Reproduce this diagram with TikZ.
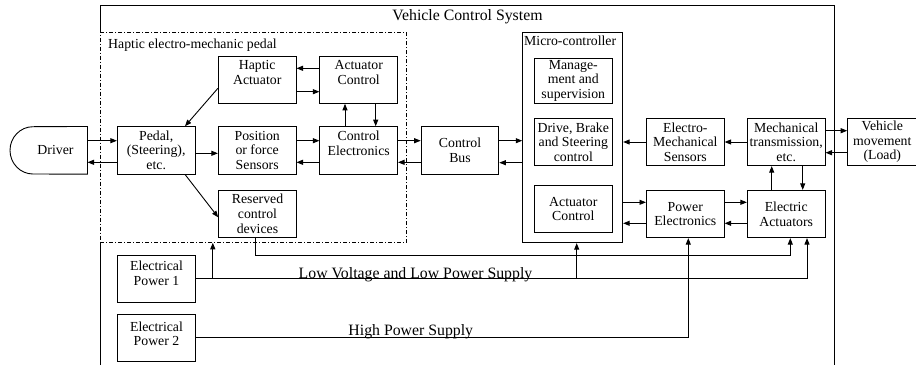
\documentclass[tikz,border=0pt]{standalone}
\usepackage{fontspec}
\setmainfont{Liberation Serif}
\usetikzlibrary{arrows.meta}

\begin{document}
\begin{tikzpicture}[x=1pt, y=-1pt,
  box/.style={draw, line width=0.9pt, minimum width=77.7pt, minimum height=47.3pt,
    inner sep=0pt, align=center, font=\fontsize{13.8}{14.6}\selectfont},
  hi/.style={text depth=#1},
  arr/.style={line width=0.9pt, -{Triangle[length=6.5pt,width=5pt]}},
  wire/.style={line width=0.9pt},
  big/.style={font=\fontsize{15.8}{18}\selectfont, inner sep=0pt},
  small/.style={font=\fontsize{13.8}{14.6}\selectfont, inner sep=0pt}]

  \useasboundingbox (0,0) rectangle (916,365);

  \draw[wire] (100,365) -- (100,5) -- (834.3,5) -- (834.3,365);
  \node[big, anchor=base] (vcs) at (467.5,20.5) {Vehicle Control System};

  \node[draw, line width=0.9pt, dash pattern=on 4pt off 2pt on 1pt off 2pt, fill=white,
    minimum width=306.7pt, minimum height=209.6pt, inner sep=0pt] (hapbox) at (253.35,137.5) {};
  \node[small, anchor=base west] (haplbl) at (108,48.5) {Haptic electro-mechanic pedal};

  \node[draw, line width=0.9pt, minimum width=100pt, minimum height=210.4pt, inner sep=0pt] (micro) at (572.7,137.5) {};
  \node[small, anchor=base west] (microlbl) at (524,45) {Micro-controller};

  \node[small, minimum width=63.6pt, minimum height=47.3pt] (drv) at (55.5,150.3) {Driver};
  \draw[wire] (drv.north east) -- (33,126.7) .. controls (20.3,126.7) and (10,137.3) .. (10,150.3)
    .. controls (10,163.4) and (20.3,174) .. (33,174) -- (drv.south east) -- cycle;

  \node[box, hi=14pt] (hapact) at (257.2,79.7) {Haptic\\Actuator};
  \node[box, hi=14pt] (actctl) at (358.7,79.7) {Actuator\\Control};
  \node[box] (pedal) at (156.2,150.3) {Pedal,\\(Steering),\\etc.};
  \node[box] (possens) at (257.2,150.3) {Position\\or force\\Sensors};
  \node[box, hi=14pt] (ctrlel) at (358.7,150.3) {Control\\Electronics};
  \node[box] (reserved) at (257.5,213.8) {Reserved\\control\\devices};
  \node[box] (ctrlbus) at (460,150.3) {Control\\Bus};
  \node[box, minimum width=78pt, minimum height=45pt] (mgmt) at (573.3,80.8) {Manage-\\ment and\\supervision};
  \node[box, minimum width=78pt] (drive) at (573.3,142) {Drive, Brake\\and Steering\\control};
  \node[box, minimum width=78pt] (mactl) at (573.3,209.2) {Actuator\\Control};
  \node[box] (emsens) at (685.3,142) {Electro-\\Mechanical\\Sensors};
  \node[box] (mech) at (786.2,142) {Mechanical\\transmission,\\etc.};
  \node[box, minimum width=69.3pt] (vehmov) at (882.3,142) {Vehicle\\movement\\(Load)};
  \node[box] (powel) at (685.3,214) {Power\\Electronics};
  \node[box] (elact) at (786.2,214) {Electric\\Actuators};
  \node[box, hi=11pt] (ep1) at (156.5,278.8) {Electrical\\Power 1};
  \node[box, hi=8pt] (ep2) at (156.5,337.8) {Electrical\\Power 2};

  \draw[arr] ([yshift=9.6pt]drv.east) -- ([yshift=9.6pt]pedal.west);
  \draw[arr] ([yshift=-12pt]pedal.west) -- ([yshift=-12pt]drv.east);
  \draw[arr] ([yshift=-3pt]pedal.east) -- ([yshift=-3pt]possens.west);
  \draw[arr] ([yshift=9.6pt]possens.east) -- ([yshift=9.6pt]ctrlel.west);
  \draw[arr] ([yshift=-12pt]ctrlel.west) -- ([yshift=-12pt]possens.east);
  \draw[arr] ([yshift=11.4pt]actctl.west) -- ([yshift=11.4pt]hapact.east);
  \draw[arr] ([yshift=-12pt]hapact.east) -- ([yshift=-12pt]actctl.west);
  \draw[arr] ([xshift=-13.7pt]ctrlel.north) -- ([xshift=-13.7pt]actctl.south);
  \draw[arr] ([xshift=17pt]actctl.south) -- ([xshift=17pt]ctrlel.north);
  \draw[arr] ([yshift=-8.6pt]hapact.west) -- ([xshift=28.8pt]pedal.north);
  \draw[arr] ([xshift=28.8pt]pedal.south) -- ([yshift=-3.5pt]reserved.west);
  \draw[arr] ([yshift=9.6pt]ctrlel.east) -- ([yshift=9.6pt]ctrlbus.west);
  \draw[arr] ([yshift=-12pt]ctrlbus.west) -- ([yshift=-12pt]ctrlel.east);
  \draw[arr] ([yshift=9.6pt]ctrlbus.east) -- ([yshift=9.6pt]ctrlbus.east -| micro.west);
  \draw[arr] ([yshift=-12.4pt]ctrlbus.east -| micro.west) -- ([yshift=-12.4pt]ctrlbus.east);

  \draw[arr] (emsens.west) -- (emsens.west -| micro.east);
  \draw[arr] (mech.west) -- (emsens.east);
  \draw[arr] ([yshift=11.3pt]mech.east) -- ([yshift=11.3pt]vehmov.west);
  \draw[arr] ([yshift=-10.7pt]vehmov.west) -- ([yshift=-10.7pt]mech.east);
  \draw[arr] ([xshift=-14.5pt]elact.north) -- ([xshift=-14.5pt]mech.south);
  \draw[arr] ([xshift=16.5pt]mech.south) -- ([xshift=16.5pt]elact.north);
  \draw[arr] ([yshift=11.7pt]powel.west -| micro.east) -- ([yshift=11.7pt]powel.west);
  \draw[arr] ([yshift=-9.3pt]powel.west) -- ([yshift=-9.3pt]powel.west -| micro.east);
  \draw[arr] ([yshift=11.7pt]powel.east) -- ([yshift=11.7pt]elact.west);
  \draw[arr] ([yshift=-9.3pt]elact.west) -- ([yshift=-9.3pt]powel.east);

  \draw[arr] ([xshift=-2.2pt]reserved.south) -- ++(0,18) -| ([xshift=4.1pt]elact.south);
  \draw[arr] (ep1.east) -| ([xshift=20.8pt]elact.south);
  \coordinate (tap1) at ([xshift=17pt]ep1.east);
  \draw[arr] (tap1) -- (tap1 |- hapbox.south);
  \draw[arr] ([xshift=4pt]micro.south |- ep1.east) -- ([xshift=4pt]micro.south);
  \draw[arr] (ep2.east) -| ([xshift=3pt]powel.south);

  \node[big, anchor=base] (lvlbl) at (415.5,278) {Low Voltage and Low Power Supply};
  \node[big, anchor=base] (hplbl) at (410.8,335) {High Power Supply};
\end{tikzpicture}
\end{document}
